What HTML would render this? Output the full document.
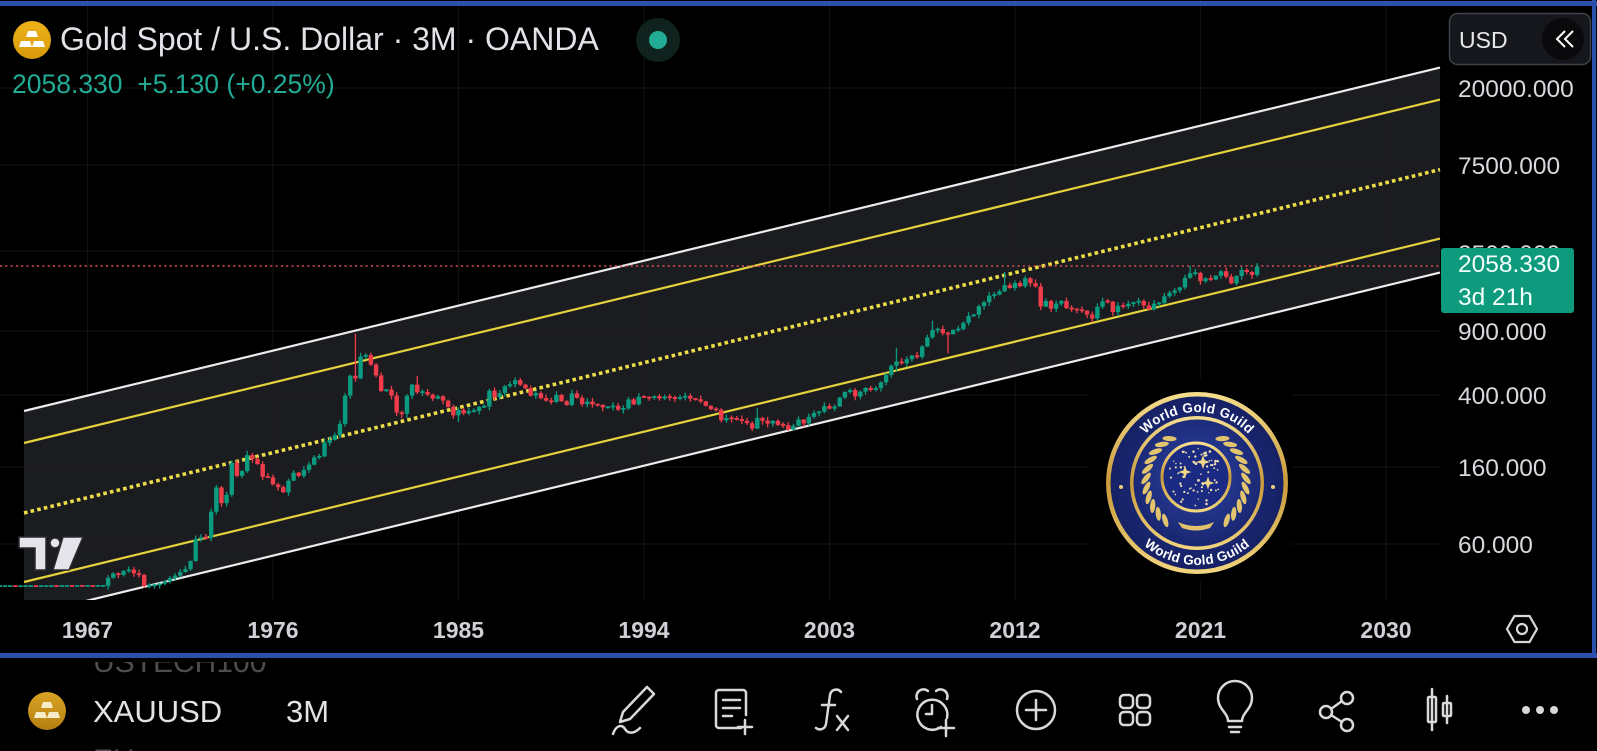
<!DOCTYPE html>
<html>
<head>
<meta charset="utf-8">
<style>
html,body{margin:0;padding:0;background:#000;}
body{width:1597px;height:751px;overflow:hidden;}
svg{display:block;}
text{font-family:"Liberation Sans",sans-serif;}
</style>
</head>
<body>
<svg width="1597" height="751" viewBox="0 0 1597 751" xmlns="http://www.w3.org/2000/svg">
<defs>
  <clipPath id="plot"><rect x="0" y="0" width="1441" height="600"/></clipPath>
  <clipPath id="below"><rect x="0" y="662" width="1597" height="89"/></clipPath>
  <linearGradient id="gold" x1="0" y1="0" x2="0" y2="1">
    <stop offset="0" stop-color="#f7df8f"/>
    <stop offset="0.5" stop-color="#c99a3a"/>
    <stop offset="1" stop-color="#f2d67f"/>
  </linearGradient>
  <radialGradient id="navy" cx="0.5" cy="0.45" r="0.6">
    <stop offset="0" stop-color="#2d44a6"/>
    <stop offset="1" stop-color="#17236b"/>
  </radialGradient>
  <radialGradient id="navy2" cx="0.5" cy="0.5" r="0.6">
    <stop offset="0" stop-color="#22338f"/>
    <stop offset="1" stop-color="#141e5c"/>
  </radialGradient>
  <linearGradient id="coinIcon" x1="0" y1="0" x2="0" y2="1">
    <stop offset="0" stop-color="#eeb21a"/>
    <stop offset="1" stop-color="#d99a0c"/>
  </linearGradient>
  <linearGradient id="coinIcon2" x1="0" y1="0" x2="0" y2="1">
    <stop offset="0" stop-color="#d9a325"/>
    <stop offset="1" stop-color="#b47f10"/>
  </linearGradient>
  <path id="arcTop" d="M1126 483 A71 71 0 0 1 1268 483"/>
  <path id="arcBot" d="M1115 483 A82 82 0 0 0 1279 483"/>
</defs>

<rect x="0" y="0" width="1597" height="751" fill="#000"/>

<g clip-path="url(#plot)">
  <g stroke="#ffffff" stroke-opacity="0.07" stroke-width="1">
    <line x1="0" y1="88" x2="1441" y2="88"/>
    <line x1="0" y1="165" x2="1441" y2="165"/>
    <line x1="0" y1="251" x2="1441" y2="251"/>
    <line x1="0" y1="331" x2="1441" y2="331"/>
    <line x1="0" y1="395" x2="1441" y2="395"/>
    <line x1="0" y1="467" x2="1441" y2="467"/>
    <line x1="0" y1="544" x2="1441" y2="544"/>
    <line x1="87.5" y1="0" x2="87.5" y2="600"/>
    <line x1="273" y1="0" x2="273" y2="600"/>
    <line x1="458.5" y1="0" x2="458.5" y2="600"/>
    <line x1="644" y1="0" x2="644" y2="600"/>
    <line x1="829.5" y1="0" x2="829.5" y2="600"/>
    <line x1="1015" y1="0" x2="1015" y2="600"/>
    <line x1="1200.5" y1="0" x2="1200.5" y2="600"/>
    <line x1="1386" y1="0" x2="1386" y2="600"/>
  </g>
  <polygon points="24,411 1440,67.6 1440,272.6 90,600 24,600" fill="#1d1e22" fill-opacity="0.92"/>
  <line x1="24" y1="411" x2="1440" y2="67.6" stroke="#ececec" stroke-width="2.2"/>
  <line x1="24" y1="443" x2="1440" y2="99.6" stroke="#e5d23c" stroke-width="2.2"/>
  <line x1="24" y1="513" x2="1440" y2="169.6" stroke="#ecdc48" stroke-width="3.6" stroke-dasharray="3.6 3.2"/>
  <line x1="24" y1="582" x2="1440" y2="238.6" stroke="#e5d23c" stroke-width="2.2"/>
  <line x1="24" y1="616" x2="1440" y2="272.6" stroke="#ececec" stroke-width="2.2"/>
  <line x1="0" y1="266" x2="1441" y2="266" stroke="#e0505a" stroke-width="1.6" stroke-dasharray="2 3.3"/>
  <g id="candles"></g>
</g>

<rect x="1088" y="378" width="204" height="204" fill="#000"/>
<circle cx="1197" cy="483" r="91" fill="url(#gold)"/>
<circle cx="1197" cy="483" r="86.5" fill="url(#navy2)"/>
<circle cx="1197" cy="483" r="67" fill="url(#gold)"/>
<circle cx="1197" cy="483" r="63.5" fill="url(#navy)"/>
<text font-size="13.5" font-weight="bold" fill="#ffffff" letter-spacing="0.3"><textPath href="#arcTop" startOffset="50%" text-anchor="middle">World Gold Guild</textPath></text>
<text font-size="13.5" font-weight="bold" fill="#ffffff" letter-spacing="0.3"><textPath href="#arcBot" startOffset="50%" text-anchor="middle">World Gold Guild</textPath></text>
<circle cx="1121" cy="487" r="2" fill="#e8cf80"/>
<circle cx="1273" cy="487" r="2" fill="#e8cf80"/>
<g id="laurel"></g>
<circle cx="1196" cy="477" r="34" fill="#1b2a82" stroke="url(#gold)" stroke-width="3"/>
<g id="stars"></g>
<path d="M1178 522 q18 8 36 0 l-4 6 q-14 5 -28 0 z" fill="#e2c26c"/>

<path d="M19 537 h27 v33 h-11 v-22 h-16 z" fill="#e4e4ea" stroke="#2a2a30" stroke-width="1.5"/>
<circle cx="55" cy="543" r="5" fill="#e4e4ea" stroke="#2a2a30" stroke-width="1.5"/>
<path d="M63 537 h20 l-14 33 h-16 z" fill="#e4e4ea" stroke="#2a2a30" stroke-width="1.5"/>

<circle cx="32" cy="40" r="19" fill="url(#coinIcon)"/>
<path d="M28 31 h8 l2 6 h-12 z" fill="#fff"/>
<path d="M21 41 h9 l2 6 h-13 z" fill="#fff"/>
<path d="M34 41 h9 l2 6 h-13 z" fill="#fff"/>
<text x="60" y="50" font-size="32" fill="#e1e3e8">Gold Spot / U.S. Dollar · 3M · OANDA</text>
<circle cx="658" cy="40" r="22" fill="#0f221d"/>
<circle cx="658" cy="40" r="9" fill="#22ab94"/>
<text x="12" y="93" font-size="26.5" fill="#22ab94" xml:space="preserve">2058.330  +5.130 (+0.25%)</text>

<rect x="1441" y="0" width="156" height="653" fill="#000"/>
<g font-size="24.5" fill="#d7d9de">
  <text x="1458" y="97">20000.000</text>
  <text x="1458" y="174">7500.000</text>
  <text x="1458" y="262">2500.000</text>
  <text x="1458" y="340">900.000</text>
  <text x="1458" y="404">400.000</text>
  <text x="1458" y="476">160.000</text>
  <text x="1458" y="553">60.000</text>
</g>
<rect x="1441" y="248" width="133" height="65" rx="3" fill="#0e9a7d"/>
<text x="1458" y="272" font-size="24.5" fill="#f2fffb">2058.330</text>
<text x="1458" y="305" font-size="24.5" fill="#f2fffb">3d 21h</text>
<rect x="1449.5" y="13.5" width="141" height="51" rx="8" fill="#15171c" stroke="#3e414a" stroke-width="1.5"/>
<text x="1459" y="48" font-size="23" fill="#e6e7ea">USD</text>
<circle cx="1563" cy="39" r="21" fill="#0a0a0c"/>
<path d="M1565 31 l-8 8 8 8 M1573 31 l-8 8 8 8" fill="none" stroke="#ffffff" stroke-width="2"/>

<g font-size="23" font-weight="bold" fill="#cfd1d6" text-anchor="middle">
  <text x="87.5" y="638">1967</text>
  <text x="273" y="638">1976</text>
  <text x="458.5" y="638">1985</text>
  <text x="644" y="638">1994</text>
  <text x="829.5" y="638">2003</text>
  <text x="1015" y="638">2012</text>
  <text x="1200.5" y="638">2021</text>
  <text x="1386" y="638">2030</text>
</g>
<polygon points="1537,629 1529.5,616 1514.5,616 1507,629 1514.5,642 1529.5,642" fill="none" stroke="#d8d8d8" stroke-width="2.2"/>
<circle cx="1522" cy="629" r="5" fill="none" stroke="#d8d8d8" stroke-width="2.2"/>

<rect x="0" y="1" width="1597" height="5" fill="#2b50aa"/>
<rect x="1592" y="0" width="4" height="658" fill="#2b50aa"/>
<rect x="0" y="653" width="1597" height="5" fill="#2b50aa"/>

<g clip-path="url(#below)">
  <text x="93" y="672" font-size="30" fill="#4e4e52">USTECH100</text>
  <text x="93" y="770" font-size="30" fill="#4e4e52">EU</text>
</g>
<circle cx="47" cy="711" r="19" fill="url(#coinIcon2)"/>
<path d="M43 702 h8 l2 6 h-12 z" fill="#f6ecc8"/>
<path d="M36 712 h9 l2 6 h-13 z" fill="#f6ecc8"/>
<path d="M49 712 h9 l2 6 h-13 z" fill="#f6ecc8"/>
<text x="93" y="722" font-size="31" fill="#e3e3e3">XAUUSD</text>
<text x="286" y="722" font-size="31" fill="#e3e3e3">3M</text>

<g fill="none" stroke="#d9d9d9" stroke-width="2.5" stroke-linecap="round" stroke-linejoin="round">
  <path d="M647 687 l7 7 -24 25 -10 3 3 -10 z"/>
  <path d="M613 734 c3 -9 9 -10 12 -5 c3 5 9 5 15 -1"/>
  <path d="M741 728 h-22 a3 3 0 0 1 -3 -3 v-32 a3 3 0 0 1 3 -3 h24 a3 3 0 0 1 3 3 v22"/>
  <path d="M723 700 h17 M723 708 h17 M723 716 h9"/>
  <path d="M745 720 v14 M738 727 h14"/>
  <path d="M841 692 c-3 -4 -10 -3 -11 3 l-4 29 c-1 5 -6 7 -10 4"/>
  <path d="M822 705 h13"/>
  <path d="M837 716 l11 14 M848 716 l-11 14"/>
  <path d="M941 727 a15 15 0 1 1 6 -9"/>
  <path d="M917 699 a7 7 0 0 1 11 -8 M947 699 a7 7 0 0 0 -11 -8"/>
  <path d="M932 705 v9 h-6"/>
  <path d="M946 720 v16 M938 728 h16"/>
  <circle cx="1036" cy="710" r="19"/>
  <path d="M1036 700 v20 M1026 710 h20"/>
  <rect x="1120" y="695" width="13" height="13" rx="4"/>
  <rect x="1137" y="695" width="13" height="13" rx="4"/>
  <rect x="1120" y="712" width="13" height="13" rx="4"/>
  <rect x="1137" y="712" width="13" height="13" rx="4"/>
  <path d="M1228 721 C1228 713 1218 709 1218 698 A17 17 0 0 1 1252 698 C1252 709 1242 713 1242 721 Z"/>
  <path d="M1229 727 h12 M1231 732 h8"/>
  <circle cx="1326" cy="712" r="6"/>
  <circle cx="1347" cy="698" r="6"/>
  <circle cx="1347" cy="725" r="6"/>
  <path d="M1331 709 l11 -8 M1331 715 l11 7"/>
  <path d="M1432 689 v41"/>
  <rect x="1428" y="697" width="8" height="25" rx="1"/>
  <path d="M1447 696 v27"/>
  <rect x="1443" y="703" width="8" height="13" rx="1"/>
</g>
<circle cx="1526" cy="710" r="4" fill="#d9d9d9"/>
<circle cx="1540" cy="710" r="4" fill="#d9d9d9"/>
<circle cx="1554" cy="710" r="4" fill="#d9d9d9"/>
</svg>

<script>
(function(){
var closes=[35.1,
35.1,35.12,35.08,35.1,35.1,35.12,35.08,35.1,35.1,35.12,35.1,35.15,35.2,35.17,35.2,35.18,35.2,35.17,35.2,35.2,
39.0,41.2,40.5,42.5,43.3,41.3,40.4,35.2,35.5,35.5,36.2,37.4,38.9,40.1,42.0,43.6,
48.3,64.0,65.3,64.9,90.5,123.3,101.0,112.3,168.5,143.0,151.8,186.5,177.0,166.3,141.3,140.3,
128.2,123.8,116.0,134.5,148.9,143.0,154.1,164.9,181.0,183.2,218.0,226.0,240.1,277.5,397.3,512.0,
494.5,653.5,666.8,589.8,513.8,422.0,428.8,397.5,320.0,315.0,397.0,456.9,414.8,416.0,402.5,382.4,
394.3,373.0,343.8,309.0,331.3,317.0,326.0,327.0,344.0,345.5,423.0,390.0,410.0,448.0,459.5,484.1,
457.0,436.0,397.3,410.2,385.0,373.0,366.5,401.0,370.0,352.3,408.4,386.2,356.0,368.0,355.0,353.2,
342.0,343.0,349.0,332.9,337.8,378.5,355.5,391.8,389.2,385.7,394.9,383.3,392.0,387.1,384.0,387.0,
396.3,382.0,379.0,369.3,349.0,334.6,332.1,290.2,298.8,296.3,293.9,287.8,279.5,261.3,299.0,288.7,
278.4,288.2,273.7,272.7,257.7,270.6,293.1,278.8,303.0,318.5,323.7,347.6,336.3,346.0,388.0,416.3,
426.5,393.3,418.0,438.0,427.5,437.1,470.8,517.0,582.0,613.5,599.3,632.0,661.8,650.5,743.0,833.8,
916.0,928.3,880.8,869.8,916.5,927.0,1004.0,1095.0,1113.3,1244.0,1307.0,1421.0,1439.0,1500.4,1624.0,1563.7,
1668.0,1598.0,1772.0,1664.0,1595.7,1234.6,1326.5,1201.6,1283.8,1327.3,1210.5,1199.3,1183.5,1172.0,1114.8,1061.0,
1232.7,1321.0,1315.7,1151.7,1247.3,1241.6,1280.2,1303.0,1325.0,1252.6,1192.0,1282.0,1292.3,1409.5,1472.5,1517.0,
1577.0,1781.0,1886.0,1898.0,1707.7,1770.0,1742.0,1829.0,1937.0,1807.0,1660.0,1824.0,1969.0,1919.0,1849.0,2058.3];
function idx(y,q){return (y-1962)*4+q-4;}
var ov={};
ov[idx(1980,1)]={h:873,l:474};
ov[idx(1979,4)]={h:520};
ov[idx(1974,4)]={h:197};
ov[idx(1982,2)]={l:297};
ov[idx(1985,1)]={l:284};
ov[idx(1983,1)]={h:511};
ov[idx(1987,4)]={h:502};
ov[idx(2001,2)]={l:255};
ov[idx(1999,3)]={h:339};
ov[idx(2006,2)]={h:730,l:543};
ov[idx(2008,1)]={h:1032};
ov[idx(2008,4)]={l:681};
ov[idx(2011,3)]={h:1920};
ov[idx(2013,2)]={l:1180};
ov[idx(2020,3)]={h:2075};
ov[idx(2023,4)]={h:2150};
var seed=11;
function rnd(){seed=(seed*9301+49297)%233280;return seed/233280;}
function X(i){return 87.5+(i-17)*5.1525;}
function Y(p){return 88+78.5*Math.log(20000/p);}
var out="",prev=35.1;
for(var i=0;i<closes.length;i++){
  var c=closes[i],o=prev,flat=(i<21);
  var hi=Math.max(o,c)*(1+(flat?0.001:0.006+rnd()*0.045));
  var lo=Math.min(o,c)*(1-(flat?0.001:0.006+rnd()*0.045));
  if(ov[i]){if(ov[i].h)hi=ov[i].h;if(ov[i].l)lo=ov[i].l;}
  var col=(c>=o)?"#0a9b80":"#ee3c4b";
  var x=X(i),yt=Y(Math.max(o,c)),yb=Y(Math.min(o,c));
  var h=yb-yt;
  if(h<1.8){yt=(yt+yb)/2-0.9;h=1.8;}
  out+='<line x1="'+x.toFixed(2)+'" y1="'+Y(hi).toFixed(2)+'" x2="'+x.toFixed(2)+'" y2="'+Y(lo).toFixed(2)+'" stroke="'+col+'" stroke-width="1.3"/>';
  out+='<rect x="'+(x-2.2).toFixed(2)+'" y="'+yt.toFixed(2)+'" width="4.4" height="'+h.toFixed(2)+'" fill="'+col+'"/>';
  prev=c;
}
document.getElementById("candles").innerHTML=out;
var cx=1196,cy=481,L="";
for(var a=128;a<=238;a+=11){
  var r=50,rad=a*Math.PI/180;
  var px=cx+r*Math.cos(rad),py=cy+r*Math.sin(rad);
  L+='<ellipse cx="'+px.toFixed(1)+'" cy="'+py.toFixed(1)+'" rx="7" ry="2.6" fill="#e3c46e" transform="rotate('+(a+125)+' '+px.toFixed(1)+' '+py.toFixed(1)+')"/>';
  var a2=180-a,rad2=a2*Math.PI/180;
  var qx=cx+r*Math.cos(rad2),qy=cy+r*Math.sin(rad2);
  L+='<ellipse cx="'+qx.toFixed(1)+'" cy="'+qy.toFixed(1)+'" rx="7" ry="2.6" fill="#e3c46e" transform="rotate('+(a2+55)+' '+qx.toFixed(1)+' '+qy.toFixed(1)+')"/>';
}
document.getElementById("laurel").innerHTML=L;
var S="";seed=5;
for(var k=0;k<70;k++){
  var rr=Math.sqrt(rnd())*29,aa=rnd()*Math.PI*2;
  var sx=1196+rr*Math.cos(aa)*1.05,sy=477+rr*Math.sin(aa);
  S+='<circle cx="'+sx.toFixed(1)+'" cy="'+sy.toFixed(1)+'" r="'+(0.6+rnd()*0.8).toFixed(2)+'" fill="#f0e2b0"/>';
}
function star(x,y,s){return '<path d="M'+x+' '+(y-s)+' L'+(x+s*0.25)+' '+(y-s*0.25)+' L'+(x+s)+' '+y+' L'+(x+s*0.25)+' '+(y+s*0.25)+' L'+x+' '+(y+s)+' L'+(x-s*0.25)+' '+(y+s*0.25)+' L'+(x-s)+' '+y+' L'+(x-s*0.25)+' '+(y-s*0.25)+' Z" fill="#f3d88a"/>';}
S+=star(1203,462,7)+star(1185,472,6.5)+star(1208,483,6.5);
document.getElementById("stars").innerHTML=S;
})();
</script>
</body>
</html>
